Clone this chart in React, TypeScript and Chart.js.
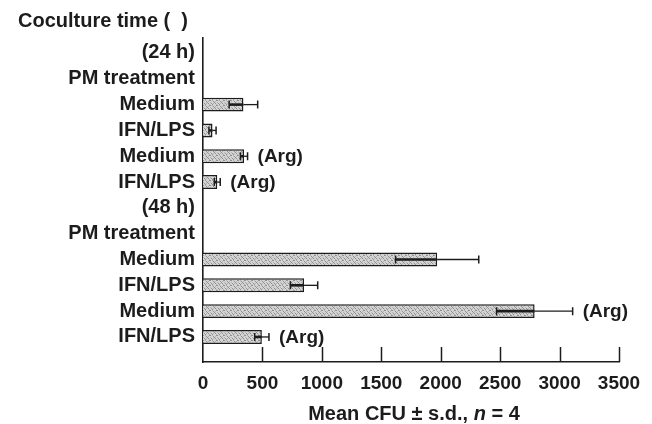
import React, { useEffect, useRef } from 'react';
import { Chart, registerables } from 'chart.js';

Chart.register(...registerables);

// ---- data ----
const rowLabels = [
  '(24 h)', 'PM treatment', 'Medium', 'IFN/LPS', 'Medium', 'IFN/LPS',
  '(48 h)', 'PM treatment', 'Medium', 'IFN/LPS', 'Medium', 'IFN/LPS',
];
const barRows = [2, 3, 4, 5, 8, 9, 10, 11];
const meanCFU = [340, 80, 345, 120, 1970, 850, 2790, 495];
const sdCFU = [120, 30, 30, 25, 350, 115, 320, 60];
const notes = ['', '', '(Arg)', '(Arg)', '', '', '(Arg)', '(Arg)'];
const xMin = 0;
const xMax = 3500;
const xStep = 500;
const topTitle = 'Coculture time (  )';
const xTitleParts: [string, boolean][] = [['Mean CFU ± s.d., ', false], ['n', true], [' = 4', false]];

const INK = '#1c1c1c';
const FONT = '"Liberation Sans", Arial, sans-serif';

function makePattern(): CanvasPattern | string {
  const c = document.createElement('canvas');
  c.width = 7;
  c.height = 5;
  const g = c.getContext('2d');
  if (!g) return '#bdbdbd';
  g.fillStyle = '#d4d4d4';
  g.fillRect(0, 0, 7, 5);
  const dark: [number, number][] = [[0, 0], [3, 1], [5, 3], [1, 3], [6, 0], [2, 4], [4, 2]];
  g.fillStyle = '#909090';
  dark.forEach(([x, y]) => g.fillRect(x, y, 1, 1));
  g.fillStyle = '#b4b4b4';
  const mid: [number, number][] = [[2, 0], [5, 1], [0, 2], [3, 3], [6, 4]];
  mid.forEach(([x, y]) => g.fillRect(x, y, 1, 1));
  const p = g.createPattern(c, 'repeat');
  return p || '#bdbdbd';
}

const overlay = {
  id: 'overlay',
  afterDatasetsDraw(chart: any) {
    const ctx: CanvasRenderingContext2D = chart.ctx;
    const xs = chart.scales.x;
    const meta = chart.getDatasetMeta(0);
    ctx.save();
    ctx.strokeStyle = INK;
    ctx.lineCap = 'butt';
    meta.data.forEach((el: any, i: number) => {
      const y = el.y;
      const xl = xs.getPixelForValue(Math.max(0, meanCFU[i] - sdCFU[i]));
      const xm = xs.getPixelForValue(meanCFU[i]);
      const xr = xs.getPixelForValue(meanCFU[i] + sdCFU[i]);
      // inner (thick)
      ctx.lineWidth = 2.6;
      ctx.beginPath();
      ctx.moveTo(xl, y);
      ctx.lineTo(xm, y);
      ctx.stroke();
      // outer (thin)
      ctx.lineWidth = 1.3;
      ctx.beginPath();
      ctx.moveTo(xm, y);
      ctx.lineTo(xr, y);
      ctx.stroke();
      // caps
      ctx.lineWidth = 1.5;
      ctx.beginPath();
      ctx.moveTo(xl, y - 4);
      ctx.lineTo(xl, y + 4);
      ctx.moveTo(xr, y - 4);
      ctx.lineTo(xr, y + 4);
      ctx.stroke();
      if (notes[i]) {
        ctx.fillStyle = INK;
        ctx.font = `bold 19px ${FONT}`;
        ctx.textAlign = 'left';
        ctx.textBaseline = 'middle';
        ctx.fillText(notes[i], xr + 10, y + 1);
      }
    });
    // inward tick marks on x axis
    const bottom = chart.chartArea.bottom;
    ctx.lineWidth = 1.5;
    ctx.beginPath();
    for (let v = xMin + xStep; v <= xMax; v += xStep) {
      const px = Math.round(xs.getPixelForValue(v)) + 0.5;
      ctx.moveTo(px, bottom);
      ctx.lineTo(px, bottom - 15);
    }
    ctx.stroke();
    // top-left title
    ctx.fillStyle = INK;
    ctx.font = `bold 20px ${FONT}`;
    ctx.textAlign = 'left';
    ctx.textBaseline = 'middle';
    ctx.fillText(topTitle, 18, 21);
    // x-axis title with italic n
    const widths = xTitleParts.map(([t, it]) => {
      ctx.font = `${it ? 'italic ' : ''}bold 20px ${FONT}`;
      return ctx.measureText(t).width;
    });
    const total = widths.reduce((a, b) => a + b, 0);
    let x = 414 - total / 2;
    xTitleParts.forEach(([t, it], k) => {
      ctx.font = `${it ? 'italic ' : ''}bold 20px ${FONT}`;
      ctx.fillText(t, x, 414);
      x += widths[k];
    });
    ctx.restore();
  },
};

export default function App() {
  const ref = useRef<HTMLCanvasElement>(null);
  useEffect(() => {
    const canvas = ref.current;
    if (!canvas) return;
    const pattern = makePattern();
    const chart = new Chart(canvas, {
      type: 'bar',
      data: {
        datasets: [
          {
            data: barRows.map((r, i) => ({ x: meanCFU[i], y: r })) as any,
            backgroundColor: pattern as any,
            borderColor: INK,
            borderWidth: 1.5,
            barPercentage: 0.54,
            categoryPercentage: 1,
          },
        ],
      },
      options: {
        indexAxis: 'y',
        animation: false,
        responsive: false,
        devicePixelRatio: 1,
        layout: { padding: { left: 0, right: 33, top: 38, bottom: 0 } },
        plugins: { legend: { display: false }, tooltip: { enabled: false } },
        scales: {
          x: {
            type: 'linear',
            position: 'bottom',
            min: xMin,
            max: xMax,
            bounds: 'data',
            offset: false,
            ticks: {
              stepSize: xStep,
              color: INK,
              font: { family: FONT, size: 19, weight: 'bold' },
              padding: 10,
              maxRotation: 0,
              autoSkip: false,
              callback: (v: any) => String(v),
            },
            grid: { display: false, drawTicks: false },
            border: { display: true, color: INK, width: 1.6 },
            afterFit: (s: any) => {
              s.height = 62;
            },
          },
          y: {
            type: 'linear',
            reverse: true,
            bounds: 'data',
            offset: false,
            min: -0.58,
            max: 11.97,
            afterBuildTicks: (s: any) => {
              s.ticks = rowLabels.map((_, i) => ({ value: i }));
            },
            ticks: {
              stepSize: 1,
              autoSkip: false,
              color: INK,
              padding: 8,
              font: { family: FONT, size: 20, weight: 'bold' },
              callback: (v: any) => rowLabels[v] ?? '',
            },
            grid: { display: false, drawTicks: false, offset: false },
            border: { display: true, color: INK, width: 1.6 },
            afterFit: (s: any) => {
              s.width = 203;
            },
          },
        },
      } as any,
      plugins: [overlay],
    });
    return () => chart.destroy();
  }, []);
  return (
    <div style={{ position: 'fixed', left: 0, top: 0, width: 652, height: 424, background: '#fff' }}>
      <canvas ref={ref} width={652} height={424} style={{ width: 652, height: 424, display: 'block' }} />
    </div>
  );
}
